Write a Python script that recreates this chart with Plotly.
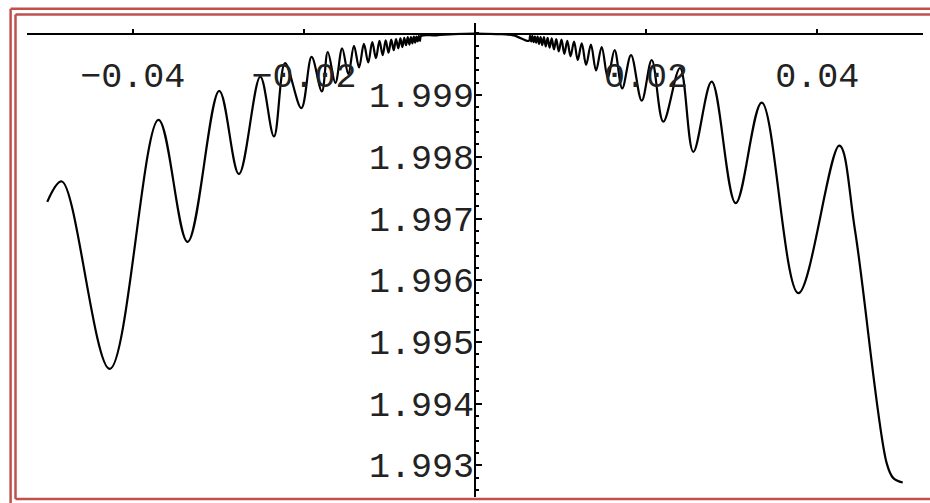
import plotly.graph_objects as go

# ---- data (local extrema of the curve) ----
left_x = [-0.0500, -0.0483, -0.0427, -0.0370, -0.0336, -0.0299, -0.0276, -0.0251,
          -0.0235, -0.0222, -0.0203, -0.0191, -0.0179,
          -0.01721, -0.01632, -0.01553, -0.01481, -0.01415, -0.01355, -0.01299,
          -0.01248, -0.01201, -0.01158, -0.01117, -0.01079, -0.01044, -0.01011,
          -0.00979, -0.00950, -0.00923, -0.00897, -0.00872, -0.00849, -0.00827,
          -0.00806, -0.00786, -0.00767, -0.00749, -0.00732, -0.00715, -0.00700,
          -0.00685, -0.00670, -0.00656, -0.00643, -0.00630]
left_y = [1.99727, 1.99760, 1.99456, 1.99860, 1.99662, 1.99907, 1.99772, 1.99930,
          1.99833, 1.99952, 1.99879, 1.99962, 1.99906,
          1.99970, 1.99920, 1.99976, 1.99934, 1.99980, 1.99945, 1.99983,
          1.99953, 1.99986, 1.99960, 1.99988, 1.99965, 1.99989, 1.99969,
          1.99990, 1.99973, 1.99991, 1.99976, 1.99992, 1.99978, 1.99993,
          1.99981, 1.99994, 1.99982, 1.99994, 1.99984, 1.99995, 1.99985,
          1.99995, 1.99987, 1.99996, 1.99988, 1.99996]

center_x = [-0.0045, -0.0025, 0.0, 0.0025, 0.0045]
center_y = [1.99997, 1.99999, 2.0, 1.99999, 1.99997]

right_x = [0.00630, 0.00643, 0.00656, 0.00670, 0.00685, 0.00700, 0.00715, 0.00732,
           0.00749, 0.00767, 0.00786, 0.00806, 0.00827, 0.00849, 0.00872, 0.00897,
           0.00923, 0.00950, 0.00979, 0.01011, 0.01044, 0.01079, 0.01117, 0.01158,
           0.01201, 0.01248, 0.01299, 0.01355, 0.01415, 0.01481, 0.01553, 0.01632,
           0.01721,
           0.01824, 0.01949, 0.02066, 0.02201, 0.02397, 0.02552, 0.02767, 0.03048,
           0.03352, 0.03780, 0.04259, 0.04442, 0.04813, 0.04890, 0.05000]
right_y = [1.99988, 1.99996, 1.99987, 1.99996, 1.99986, 1.99995, 1.99985, 1.99995,
           1.99983, 1.99994, 1.99981, 1.99994, 1.99979, 1.99993, 1.99977, 1.99992,
           1.99974, 1.99991, 1.99971, 1.99990, 1.99967, 1.99988, 1.99963, 1.99987,
           1.99957, 1.99984, 1.99949, 1.99982, 1.99940, 1.99978, 1.99928, 1.99973,
           1.99911,
           1.99965, 1.99891, 1.99957, 1.99857, 1.99944, 1.99808, 1.99922, 1.99725,
           1.99888, 1.99579, 1.99818, 1.99681, 1.99303, 1.99279, 1.99272]

x_tick_vals = [-0.04, -0.02, 0.02, 0.04]
x_tick_text = ["\u22120.04", "\u22120.02", "0.02", "0.04"]
y_tick_vals = [1.993, 1.994, 1.995, 1.996, 1.997, 1.998, 1.999]
y_tick_text = ["1.993", "1.994", "1.995", "1.996", "1.997", "1.998", "1.999"]

xs = left_x + center_x + right_x
ys = left_y + center_y + right_y

W, H = 930, 503
L, R, T, B = 27, 7, 23, 6
pw, ph = W - L - R, H - T - B


def px_to_paper_x(px):
    return (px - L) / pw


def py_to_paper_y(py):
    return (H - B - py) / ph


fig = go.Figure()
fig.add_trace(go.Scatter(
    x=xs, y=ys, mode="lines",
    line=dict(color="black", width=2.2, shape="spline", smoothing=1.0),
    hoverinfo="skip", showlegend=False,
))

font = dict(family="Liberation Mono, Courier New, monospace", size=35, color="#222222")

fig.update_layout(
    width=W, height=H,
    margin=dict(l=L, r=R, t=T, b=B, pad=0),
    paper_bgcolor="white", plot_bgcolor="white",
    showlegend=False,
    xaxis=dict(
        range=[-0.05237, 0.05237],
        anchor="free", position=(497 - 33.5) / ph,
        showline=True, linecolor="black", linewidth=2,
        showgrid=False, zeroline=False,
        ticks="inside", ticklen=4, tickwidth=2, tickcolor="black",
        tickmode="array", tickvals=x_tick_vals, ticktext=x_tick_text,
        tickfont=font, ticklabelstandoff=10,
    ),
    yaxis=dict(
        range=[1.992484, 2.000170],
        anchor="free", position=px_to_paper_x(475),
        showline=True, linecolor="black", linewidth=2,
        showgrid=False, zeroline=False,
        ticks="inside", ticklen=6, tickwidth=2, tickcolor="black",
        tickmode="array", tickvals=y_tick_vals, ticktext=y_tick_text,
        tickfont=font, ticklabelstandoff=-7,
        minor=dict(ticks="inside", ticklen=3, tickwidth=1.5, tickcolor="black",
                   tick0=1.993, dtick=0.0002),
    ),
)

red = "#c0504d"
ox, oy = 10.6, 8.7
ix, iy, ib = 15.5, 14.5, 499
shapes = [
    # outer frame
    dict(x0=px_to_paper_x(ox), x1=px_to_paper_x(ox), y0=py_to_paper_y(oy), y1=py_to_paper_y(515)),
    dict(x0=px_to_paper_x(ox), x1=px_to_paper_x(945), y0=py_to_paper_y(oy), y1=py_to_paper_y(oy)),
    # inner frame
    dict(x0=px_to_paper_x(ix), x1=px_to_paper_x(ix), y0=py_to_paper_y(iy), y1=py_to_paper_y(ib)),
    dict(x0=px_to_paper_x(ix), x1=px_to_paper_x(945), y0=py_to_paper_y(iy), y1=py_to_paper_y(iy)),
    dict(x0=px_to_paper_x(ix), x1=px_to_paper_x(945), y0=py_to_paper_y(ib), y1=py_to_paper_y(ib)),
]
for s in shapes:
    fig.add_shape(type="line", xref="paper", yref="paper",
                  line=dict(color=red, width=2.5), **s)

fig.write_html("out.html", config={"displayModeBar": False},
               post_script="document.body.style.margin='0px';document.body.style.overflow='hidden';")
